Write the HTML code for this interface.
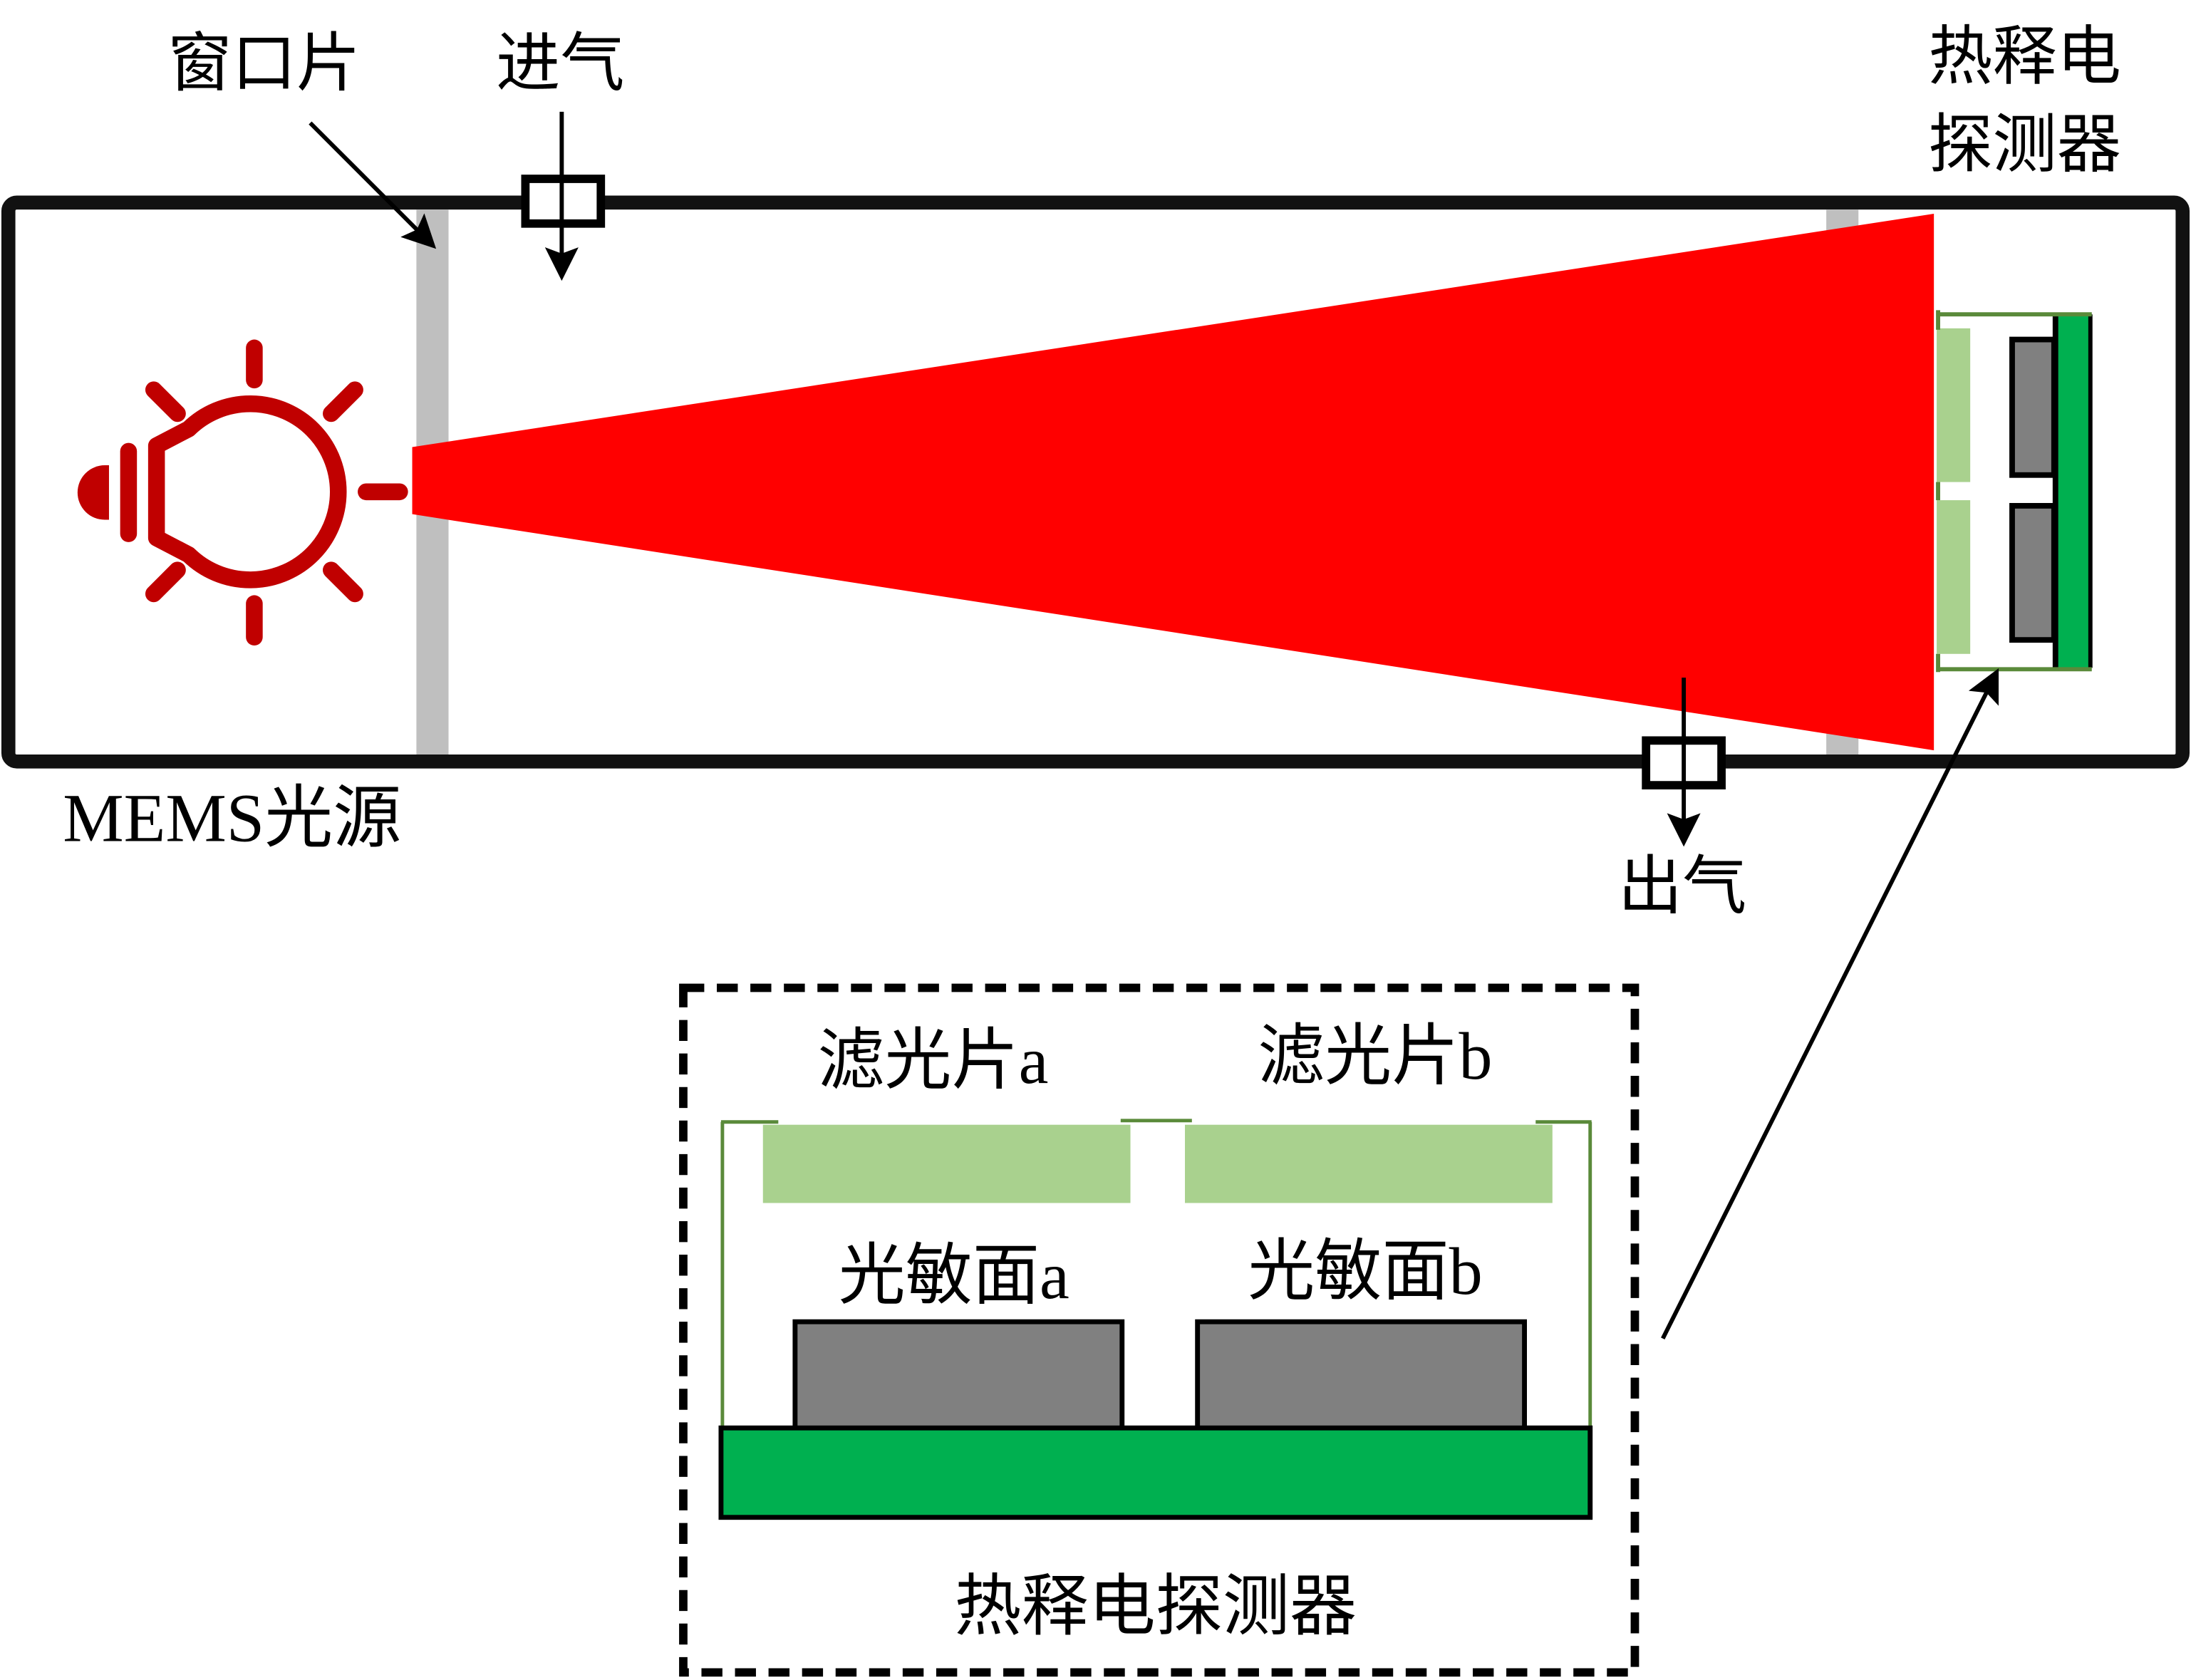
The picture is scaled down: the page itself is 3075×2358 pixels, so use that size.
<!DOCTYPE html>
<html><head><meta charset="utf-8"><style>
html,body{margin:0;padding:0;background:#fff;}
svg{display:block;}
text{font-family:"Liberation Serif","Noto Sans CJK SC",serif;fill:#000;}
</style></head><body>
<svg width="3075" height="2358" viewBox="0 0 1568 1202.4" preserveAspectRatio="none" xmlns="http://www.w3.org/2000/svg">
<defs>
<marker id="ah" markerWidth="8" markerHeight="8" refX="7" refY="4" orient="auto" markerUnits="strokeWidth">
<path d="M0,0 L8,4 L0,8 L1.5,4 Z" fill="#000"/>
</marker>
</defs>
<rect width="1568" height="1203" fill="#fff"/>
<rect x="6" y="145" width="1556" height="400" rx="6" fill="#fff" stroke="#111" stroke-width="10"/>
<rect x="298" y="150" width="23" height="390" fill="#bfbfbf"/>
<rect x="1307" y="150" width="23" height="390" fill="#bfbfbf"/>
<polygon points="295,320 1384,153 1384,537 295,368" fill="#ff0000"/>
<g fill="none" stroke="#c00000" stroke-width="12" stroke-linecap="round" stroke-linejoin="round">
<path d="M112,319 L135,307 A63,63 0 1 1 135,397 L112,385 Z"/>
<line x1="182" y1="249" x2="182" y2="272"/>
<line x1="182" y1="432" x2="182" y2="456"/>
<line x1="262" y1="352" x2="286" y2="352"/>
<line x1="110" y1="279" x2="127" y2="296"/>
<line x1="254" y1="279" x2="237" y2="296"/>
<line x1="110" y1="425" x2="127" y2="408"/>
<line x1="254" y1="425" x2="237" y2="408"/>
<line x1="92" y1="323" x2="92" y2="382"/>
</g>
<path d="M78,333 L75,333 A19,19 0 0 0 75,372 L78,372 Z" fill="#c00000"/>
<g>
<rect x="1386" y="235" width="24" height="110" fill="#a9d18e"/>
<rect x="1386" y="358" width="24" height="110" fill="#a9d18e"/>
<rect x="1440" y="243" width="30" height="97" fill="#808080" stroke="#000" stroke-width="4"/>
<rect x="1440" y="362" width="30" height="96" fill="#808080" stroke="#000" stroke-width="4"/>
<rect x="1472" y="225" width="24" height="253" fill="#00b050"/>
<line x1="1471" y1="225" x2="1471" y2="478" stroke="#000" stroke-width="4"/>
<line x1="1496" y1="225" x2="1496" y2="478" stroke="#000" stroke-width="3"/>
<g stroke="#5a8a3a" stroke-width="3">
<line x1="1386" y1="225" x2="1497" y2="225"/>
<line x1="1386" y1="479" x2="1497" y2="479"/>
<line x1="1387" y1="222" x2="1387" y2="236"/>
<line x1="1387" y1="345" x2="1387" y2="358"/>
<line x1="1387" y1="468" x2="1387" y2="481"/>
</g>
</g>
<line x1="402" y1="80" x2="402" y2="198" stroke="#000" stroke-width="3" marker-end="url(#ah)"/>
<rect x="376" y="128" width="54" height="32" fill="#fff" stroke="#000" stroke-width="6"/>
<line x1="402" y1="128" x2="402" y2="160" stroke="#000" stroke-width="3"/>
<line x1="1205" y1="485" x2="1205" y2="603" stroke="#000" stroke-width="3" marker-end="url(#ah)"/>
<rect x="1178" y="530" width="54" height="32" fill="#fff" stroke="#000" stroke-width="6"/>
<line x1="1205" y1="530" x2="1205" y2="562" stroke="#000" stroke-width="3"/>
<line x1="222" y1="88" x2="310" y2="176" stroke="#000" stroke-width="3" marker-end="url(#ah)"/>
<line x1="1190" y1="958" x2="1429" y2="481" stroke="#000" stroke-width="3" marker-end="url(#ah)"/>
<g font-size="46">
<text x="120" y="61">窗口片</text>
<text x="355" y="61">进气</text>
<text x="1380" y="56">热释电</text>
<text x="1380" y="119">探测器</text>
<text x="1158" y="650">出气</text>
</g>
<text x="45" y="602" font-size="49">MEMS光源</text>
<rect x="489" y="707" width="681" height="490" fill="none" stroke="#000" stroke-width="6" stroke-dasharray="15,9"/>
<g stroke="#5a8a3a" stroke-width="2.5">
<line x1="517" y1="803" x2="517" y2="1022"/>
<line x1="1138" y1="803" x2="1138" y2="1022"/>
<line x1="516" y1="803" x2="557" y2="803"/>
<line x1="802" y1="802" x2="853" y2="802"/>
<line x1="1099" y1="803" x2="1139" y2="803"/>
</g>
<rect x="546" y="805" width="263" height="56" fill="#a9d18e"/>
<rect x="848" y="805" width="263" height="56" fill="#a9d18e"/>
<rect x="569" y="946" width="234" height="78" fill="#808080" stroke="#000" stroke-width="3.5"/>
<rect x="857" y="946" width="234" height="78" fill="#808080" stroke="#000" stroke-width="3.5"/>
<rect x="516" y="1022" width="622" height="64" fill="#00b050" stroke="#000" stroke-width="3.5"/>
<g font-size="48">
<text x="585" y="775">滤光片a</text>
<text x="900" y="772">滤光片b</text>
<text x="600" y="929">光敏面a</text>
<text x="893" y="926">光敏面b</text>
<text x="683" y="1166">热释电探测器</text>
</g>
</svg>
</body></html>
